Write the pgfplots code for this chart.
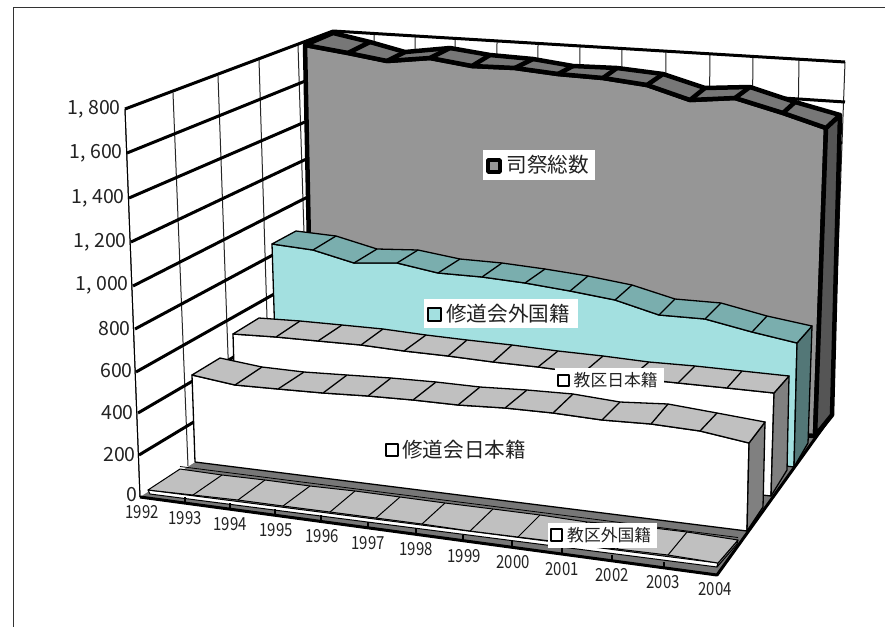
\documentclass[border=0pt]{standalone}
\usepackage{pgfplots}
\pgfplotsset{compat=1.18}
\usepackage{fontspec}
\setmainfont{Noto Sans CJK JP}
\newfontfamily\num{Noto Sans CJK JP}
\newfontfamily\numx[FakeStretch=0.83]{Noto Sans CJK JP}
\definecolor{sa}{HTML}{969696}\definecolor{sat}{HTML}{777777}\definecolor{sas}{HTML}{555555}
\definecolor{cy}{HTML}{A3E0E0}\definecolor{cyt}{HTML}{7AAEAE}\definecolor{cys}{HTML}{537777}
\definecolor{wt}{HTML}{C0C0C0}\definecolor{ws}{HTML}{808080}\definecolor{txt}{HTML}{222222}
\tikzset{ylab/.style={anchor=east,text=txt,inner sep=0pt,font=\fontsize{19.5}{19.5}\num},
 xlab/.style={text=txt,inner sep=0pt,font=\fontsize{18}{18}\numx}}
\begin{document}
\begin{tikzpicture}
\begin{axis}[scale only axis,width=885pt,height=627pt,xmin=0,xmax=885,ymin=0,ymax=627,y dir=reverse,hide axis,clip=true,
  every axis plot/.append style={line join=round,line cap=butt,mark=none}]
% page
\addplot[fill=white,draw=none] coordinates {(0,0)(885,0)(885,627)(0,627)} -- cycle;
\addplot[draw=black!80,line width=1pt] coordinates {(885,7.5)(13.5,7.5)(13.5,627)};
% back wall vertical grid
\addplot[draw=black!85,line width=1pt,unbounded coords=jump] coordinates {
(374,34)(375,375)(nan,nan)(415,36)(415,378)(nan,nan)(455,39)(455,381)(nan,nan)(497,41)(496,384)(nan,nan)
(538,43)(537,387)(nan,nan)(580,46)(578,390)(nan,nan)(622,48)(620,393)(nan,nan)(666,51)(663,396)(nan,nan)
(710,54)(706,400)(nan,nan)(753,57)(749,403)(nan,nan)(799,59)(794,408)(nan,nan)(845,62)(832,415)};
% left wall vertical grid
\addplot[draw=black!85,line width=1pt,unbounded coords=jump] coordinates {
(125,109)(140,497)(nan,nan)(173,93)(188,466)(nan,nan)(218,76)(231,438)(nan,nan)(259,60)(270,414)(nan,nan)(298,45)(309,390)(nan,nan)(333,31)(338,372)};
% horizontal grid, left wall then back wall
\addplot[draw=black,line width=3pt,unbounded coords=jump] coordinates {
(845,62)(333,31)(125,109)(nan,nan)
(845,102)(335,69)(127,153)(nan,nan)
(842,143)(335,109)(129,198)(nan,nan)
(841,183)(336,145)(131,242)(nan,nan)
(838,222)(337,182)(133,286)(nan,nan)
(838,262)(338,220)(135,329)(nan,nan)
(836,300)(338,258)(136,372)(nan,nan)
(835,338)(338,296)(138,413)(nan,nan)
(833,377)(338,335)(139,455)};
% floor
\addplot[fill=sat,draw=none] coordinates {(140,497)(717,575)(832,415)(338,372)} -- cycle;
\addplot[draw=black,line width=3pt] coordinates {(140,497)(717,575)(832,415)};
% === 司祭総数
\addplot[fill=sa,draw=black,line width=4.5pt] coordinates {
(305,45)(348,53)(387,61)(430,58)(472,66)(515,68)(558,74)(603,78)(647,85)(690,100)(735,98)(783,113)(826,128)(815,436)(312,395)} -- cycle;
\addplot[fill=sas,draw=black,line width=4.5pt] coordinates {(826,128)(840,115)(832,415)(815,436)} -- cycle;
\addplot[fill=sat,draw=black,line width=4.5pt] coordinates {
(305,45)(348,53)(387,61)(430,58)(472,66)(515,68)(558,74)(603,78)(647,85)(690,100)(735,98)(783,113)(826,128)
(840,115)(795,102)(750,87)(705,88)(663,74)(617,68)(573,66)(533,59)(490,55)(450,48)(405,52)(370,42)(333,33)} -- cycle;
\addplot[draw=black,line width=4.5pt,unbounded coords=jump] coordinates {
(348,53)(370,42)(nan,nan)(387,61)(405,52)(nan,nan)(430,58)(450,48)(nan,nan)(472,66)(490,55)(nan,nan)(515,68)(533,59)(nan,nan)
(558,74)(573,66)(nan,nan)(603,78)(617,68)(nan,nan)(647,85)(663,74)(nan,nan)(690,100)(705,88)(nan,nan)(735,98)(750,87)(nan,nan)(783,113)(795,102)};
% === 修道会外国籍
\addplot[fill=cy,draw=black,line width=1.3pt] coordinates {
(272,244)(313,250)(354,263)(397,263)(438,273)(482,277)(525,283)(570,291)(615,300)(659,315)(705,319)(752,332)(797,343)(794,467)(277,405)} -- cycle;
\addplot[fill=cys,draw=black,line width=1.3pt] coordinates {(797,343)(812,326)(808,443)(794,467)} -- cycle;
\addplot[fill=cyt,draw=black,line width=1.3pt] coordinates {
(272,244)(313,250)(354,263)(397,263)(438,273)(482,277)(525,283)(570,291)(615,300)(659,315)(705,319)(752,332)(797,343)
(812,326)(767,316)(721,303)(675,299)(632,285)(588,276)(545,269)(502,263)(460,259)(418,250)(377,249)(336,236)(296,231)} -- cycle;
\addplot[draw=black,line width=1.3pt,unbounded coords=jump] coordinates {
(313,250)(336,236)(nan,nan)(354,263)(377,249)(nan,nan)(397,263)(418,250)(nan,nan)(438,273)(460,259)(nan,nan)(482,277)(502,263)(nan,nan)
(525,283)(545,269)(nan,nan)(570,291)(588,276)(nan,nan)(615,300)(632,285)(nan,nan)(659,315)(675,299)(nan,nan)(705,319)(721,303)(nan,nan)(752,332)(767,316)};
% === 教区日本籍
\addplot[fill=white,draw=black,line width=1.3pt] coordinates {
(233,334)(276,337)(318,341)(361,345)(404,351)(448,356)(493,362)(538,367)(583,373)(630,378)(678,383)(727,388)(774,393)(771,496)(236,435)} -- cycle;
\addplot[fill=ws,draw=black,line width=1.3pt] coordinates {(774,393)(789,376)(787,470)(771,496)} -- cycle;
\addplot[fill=wt,draw=black,line width=1.3pt] coordinates {
(233,334)(276,337)(318,341)(361,345)(404,351)(448,356)(493,362)(538,367)(583,373)(630,378)(678,383)(727,388)(774,393)
(789,376)(742,371)(695,366)(649,362)(603,356)(558,351)(512,345)(467,340)(426,335)(383,329)(342,325)(300,321)(259,318)} -- cycle;
\addplot[draw=black,line width=1.3pt,unbounded coords=jump] coordinates {
(276,337)(300,321)(nan,nan)(318,341)(342,325)(nan,nan)(361,345)(383,329)(nan,nan)(404,351)(426,335)(nan,nan)(448,356)(467,340)(nan,nan)
(493,362)(512,345)(nan,nan)(538,367)(558,351)(nan,nan)(583,373)(603,356)(nan,nan)(630,378)(649,362)(nan,nan)(678,383)(695,366)(nan,nan)(727,388)(742,371)};
% === 修道会日本籍
\addplot[fill=white,draw=black,line width=1.3pt] coordinates {
(192,375)(235,385)(278,389)(323,393)(368,396)(413,400)(458,405)(505,408)(553,413)(602,420)(651,424)(700,431)(749,443)(747,531)(195,462)} -- cycle;
\addplot[fill=ws,draw=black,line width=1.3pt] coordinates {(749,443)(765,422)(763,507)(747,531)} -- cycle;
\addplot[fill=wt,draw=black,line width=1.3pt] coordinates {
(192,375)(235,385)(278,389)(323,393)(368,396)(413,400)(458,405)(505,408)(553,413)(602,420)(651,424)(700,431)(749,443)
(765,422)(717,413)(668,404)(620,402)(573,394)(527,390)(480,387)(436,382)(391,378)(347,375)(304,372)(262,367)(220,358)} -- cycle;
\addplot[draw=black,line width=1.3pt,unbounded coords=jump] coordinates {
(235,385)(262,367)(nan,nan)(278,389)(304,372)(nan,nan)(323,393)(347,375)(nan,nan)(368,396)(391,378)(nan,nan)(413,400)(436,382)(nan,nan)
(458,405)(480,387)(nan,nan)(505,408)(527,390)(nan,nan)(553,413)(573,394)(nan,nan)(602,420)(620,402)(nan,nan)(651,424)(668,404)(nan,nan)(700,431)(717,413)};
% === 教区外国籍
\addplot[fill=white,draw=black,line width=1pt] coordinates {(148,490)(718,563)(717,567)(150,494)} -- cycle;
\addplot[draw=black,line width=0.8pt] coordinates {(180,466.5)(738,537.5)};
\addplot[fill=ws,draw=black,line width=1pt] coordinates {(718,563)(738,540)(737,544)(717,567)} -- cycle;
\addplot[fill=wt,draw=black,line width=1pt] coordinates {
(148,490)(193,495)(238,500)(283,506)(330,512)(376,518)(422,524)(470,531)(518,537)(567,543)(617,549)(668,555)(718,563)
(738,540)(687,532)(637,526)(587,522)(540,515)(493,509)(445,503)(400,497)(355,491)(310,486)(265,480)(222,475)(180,469)} -- cycle;
\addplot[draw=black,line width=1pt,unbounded coords=jump] coordinates {
(193,495)(222,475)(nan,nan)(238,500)(265,480)(nan,nan)(283,506)(310,486)(nan,nan)(330,512)(355,491)(nan,nan)(376,518)(400,497)(nan,nan)
(422,524)(445,503)(nan,nan)(470,531)(493,509)(nan,nan)(518,537)(540,515)(nan,nan)(567,543)(587,522)(nan,nan)(617,549)(637,526)(nan,nan)(668,555)(687,532)};
% x ticks on the front edge
\addplot[draw=black,line width=2.5pt,unbounded coords=jump] coordinates {
(185,503)(185,497)(nan,nan)(230,509)(230,503)(nan,nan)(275,515)(275,509)(nan,nan)(321,521)(321,515)(nan,nan)(368,528)(368,522)(nan,nan)
(416,534)(416,528)(nan,nan)(463,541)(463,535)(nan,nan)(512,547)(512,541)(nan,nan)(562,554)(562,548)(nan,nan)(612,561)(612,555)(nan,nan)(664,568)(664,562)};
% y axis
\addplot[draw=black,line width=1pt] coordinates {(125,109)(140,497)};
% y labels
\node[ylab] at (axis cs:121,109) {1, 800};
\node[ylab] at (axis cs:123,153) {1, 600};
\node[ylab] at (axis cs:125,198) {1, 400};
\node[ylab] at (axis cs:127,242) {1, 200};
\node[ylab] at (axis cs:129,285) {1, 000};
\node[ylab] at (axis cs:131,329) {800};
\node[ylab] at (axis cs:133,371) {600};
\node[ylab] at (axis cs:134,413) {400};
\node[ylab] at (axis cs:136,455) {200};
\node[ylab] at (axis cs:138,495) {0};
% x labels
\node[xlab] at (axis cs:142,512) {1992};
\node[xlab] at (axis cs:185,518) {1993};
\node[xlab] at (axis cs:230,524) {1994};
\node[xlab] at (axis cs:276,530) {1995};
\node[xlab] at (axis cs:322,536) {1996};
\node[xlab] at (axis cs:368,543) {1997};
\node[xlab] at (axis cs:416,549) {1998};
\node[xlab] at (axis cs:464,556) {1999};
\node[xlab] at (axis cs:513,562) {2000};
\node[xlab] at (axis cs:562,569) {2001};
\node[xlab] at (axis cs:612,575) {2002};
\node[xlab] at (axis cs:663,582) {2003};
\node[xlab] at (axis cs:715,589) {2004};
% data label boxes
\addplot[fill=white,draw=none] coordinates {(483,150)(595,150)(595,180)(483,180)} -- cycle;
\addplot[fill=sa,draw=black,line width=3.5pt] coordinates {(488,160)(500,160)(500,172)(488,172)} -- cycle;
\node[anchor=west,text=txt,inner sep=0pt,font=\fontsize{20.6}{20.6}\selectfont] at (axis cs:506.5,165) {司祭総数};
\addplot[fill=white,draw=none] coordinates {(424,299)(578,299)(578,328)(424,328)} -- cycle;
\addplot[fill=cy,draw=black,line width=1.2pt] coordinates {(428,308)(441,308)(441,321)(428,321)} -- cycle;
\node[anchor=west,text=txt,inner sep=0pt,font=\fontsize{20.6}{20.6}\selectfont] at (axis cs:446,314) {修道会外国籍};
\addplot[fill=white,draw=none] coordinates {(555,368)(664,368)(664,388)(555,388)} -- cycle;
\addplot[fill=white,draw=black,line width=1.2pt] coordinates {(558,375)(569,375)(569,386)(558,386)} -- cycle;
\node[anchor=west,text=txt,inner sep=0pt,font=\fontsize{16.8}{16.8}\selectfont] at (axis cs:573.5,380) {教区日本籍};
\addplot[fill=white,draw=none] coordinates {(548,523)(657,523)(657,548)(548,548)} -- cycle;
\addplot[fill=white,draw=black,line width=1.2pt] coordinates {(551,529)(562,529)(562,541)(551,541)} -- cycle;
\node[anchor=west,text=txt,inner sep=0pt,font=\fontsize{16.8}{16.8}\selectfont] at (axis cs:567,535) {教区外国籍};
\addplot[fill=white,draw=black,line width=1.2pt] coordinates {(386,444)(398,444)(398,456)(386,456)} -- cycle;
\node[anchor=west,text=txt,inner sep=0pt,font=\fontsize{20.6}{20.6}\selectfont] at (axis cs:402,450) {修道会日本籍};
\end{axis}
\end{tikzpicture}
\end{document}
